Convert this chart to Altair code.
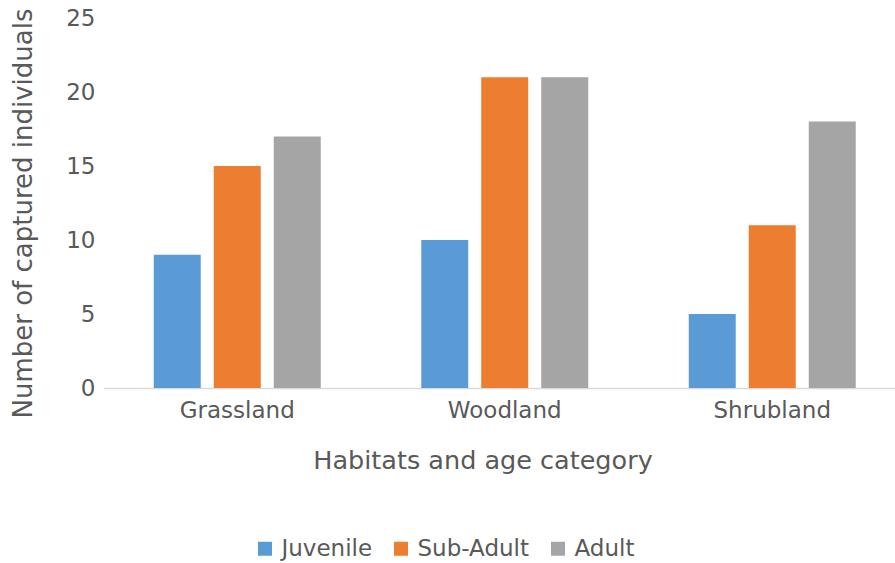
import altair as alt
import pandas as pd

# Captured individuals per habitat, split by age category
habitats = ["Grassland", "Woodland", "Shrubland"]
age_groups = ["Juvenile", "Sub-Adult", "Adult"]
juvenile = [9, 10, 5]
sub_adult = [15, 21, 11]
adult = [17, 21, 18]
y_ticks = [0, 5, 10, 15, 20, 25]
palette = ["#5B9BD5", "#ED7D31", "#A5A5A5"]

rows = []
for i, h in enumerate(habitats):
    for g, vals in zip(age_groups, [juvenile, sub_adult, adult]):
        rows.append({"habitat": h, "age": g, "count": vals[i]})
df = pd.DataFrame(rows)

FONT = "DejaVu Sans"
TXT = "#595959"

bars = alt.Chart(df).mark_bar().encode(
    x=alt.X(
        "habitat:N",
        sort=habitats,
        scale=alt.Scale(range=[0, 802.5], paddingInner=0, paddingOuter=0),
        axis=alt.Axis(
            title="Habitats and age category",
            labelAngle=0,
            labelFontSize=23,
            labelColor=TXT,
            labelFont=FONT,
            labelBaseline="alphabetic",
            labelPadding=29,
            ticks=False,
            tickSize=0,
            domainColor="#D9D9D9",
            domainWidth=1.5,
            titleFontSize=25.5,
            titleFont=FONT,
            titleColor=TXT,
            titleFontWeight="normal",
            titleX=379,
            titleY=80,
            titleAlign="center",
            titleBaseline="alphabetic",
        ),
    ),
    xOffset=alt.XOffset(
        "age:N",
        sort=age_groups,
        scale=alt.Scale(paddingInner=0.2167, paddingOuter=0.8375),
    ),
    y=alt.Y(
        "count:Q",
        scale=alt.Scale(domain=[0, 25], nice=False, zero=True),
        axis=alt.Axis(
            title="Number of captured individuals",
            values=y_ticks,
            grid=False,
            domain=False,
            ticks=False,
            tickSize=0,
            labelFontSize=23,
            labelColor=TXT,
            labelFont=FONT,
            labelPadding=8.5,
            titleFontSize=26,
            titleFont=FONT,
            titleColor=TXT,
            titleFontWeight="normal",
            titleAngle=270,
            titleX=-72.5,
            titleY=195,
            titleAlign="center",
            titleBaseline="alphabetic",
        ),
    ),
    color=alt.Color(
        "age:N",
        sort=age_groups,
        scale=alt.Scale(domain=age_groups, range=palette),
        legend=alt.Legend(
            title=None,
            orient="none",
            direction="horizontal",
            legendX=150,
            legendY=519,
            symbolType="square",
            symbolSize=196,
            symbolStrokeWidth=0,
            labelFontSize=23,
            labelFont=FONT,
            labelColor=TXT,
            labelOffset=5,
            columnPadding=17,
            padding=0,
        ),
    ),
).properties(
    width=791.5,
    height=370,
    background="white",
    autosize=alt.AutoSizeParams(type="none"),
    padding={"left": 103.5, "top": 18, "right": 0, "bottom": 175},
).configure_view(stroke=None, strokeWidth=0)

chart = bars
chart.save("out.html", embed_options={"renderer": "svg", "actions": False})
